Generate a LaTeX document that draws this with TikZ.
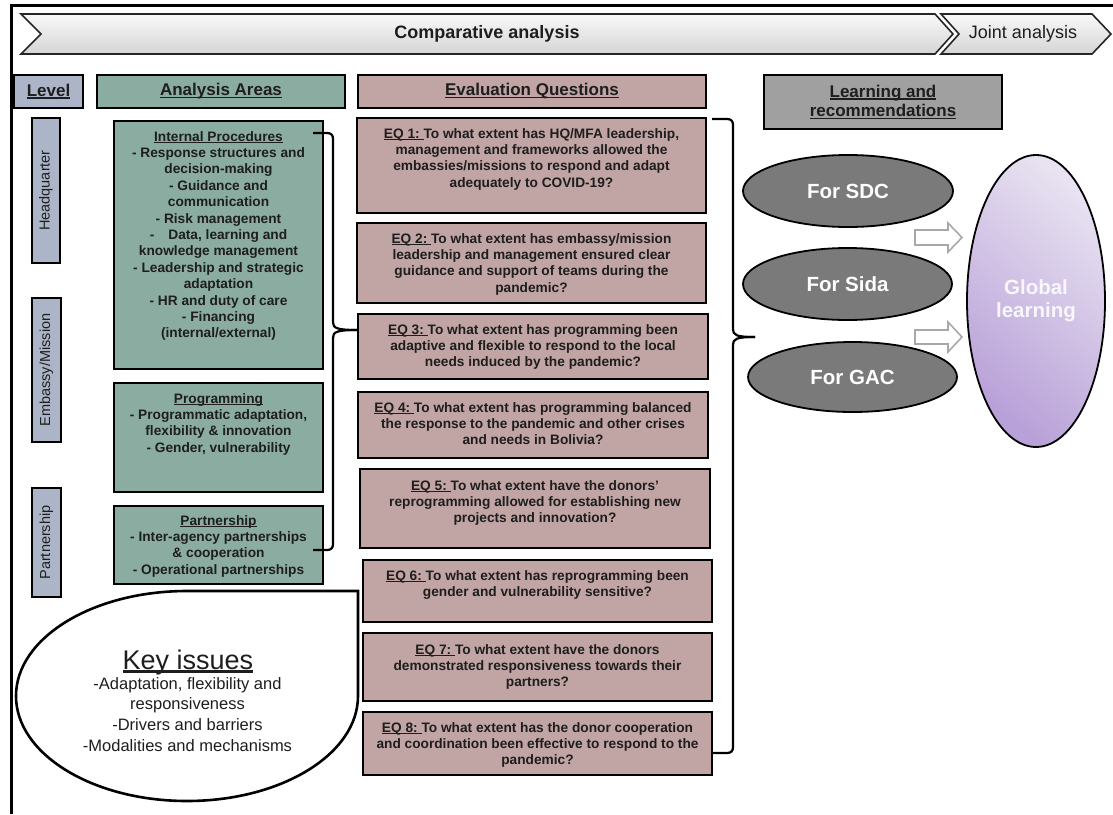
\documentclass[tikz,border=0pt]{standalone}
\usepackage{fontspec}
\setmainfont{Liberation Sans}
\usetikzlibrary{shapes.geometric}
\definecolor{lvl}{RGB}{171,181,199}
\definecolor{grn}{RGB}{139,172,161}
\definecolor{pnk}{RGB}{193,164,164}
\definecolor{lrn}{RGB}{160,160,160}
\definecolor{ell}{RGB}{122,122,122}
\definecolor{glo}{RGB}{184,160,216}
\definecolor{glolt}{RGB}{232,226,241}
\definecolor{arr}{RGB}{168,168,168}
\definecolor{txt}{RGB}{30,30,30}
\newcommand{\fs}[2]{\fontsize{#1}{#2}\selectfont}
\newcommand{\ulx}[1]{\setbox0\hbox{#1}\rlap{\rule[-0.13em]{\wd0}{0.075em}}\box0}
\begin{document}
\begin{tikzpicture}[x=1pt,y=-1pt,
  hdr/.style={draw=black, line width=2.2pt, inner sep=0pt, font=\fs{17}{20}\bfseries, align=center, text=txt},
  lvlbox/.style={draw=black, line width=2.2pt, fill=lvl, inner sep=0pt, rotate=90, font=\fs{14.5}{16}, text=txt},
  areabox/.style={draw=black, line width=2.4pt, fill=grn, inner sep=0pt},
  eqbox/.style={draw=black, line width=2.4pt, fill=pnk, inner sep=0pt},
  btxt/.style={font=\fs{13.7}{16.4}\bfseries, align=center, inner sep=0pt, anchor=north, text=txt},
  brace/.style={draw=black, line width=2.2pt},
  forell/.style={ellipse, draw=black, line width=1.8pt, fill=ell, text=white, font=\fs{20.5}{24}\bfseries, inner sep=0pt},
  barrow/.style={draw=arr, fill=white, line width=1.6pt, line join=miter},
  chev/.style={draw=black!85, line width=1.6pt, top color=gray!5, bottom color=gray!33}
]
\useasboundingbox (0,0) rectangle (1113,814);
% outer frame
\draw[line width=3pt] (11,814) -- (11,5.5) -- (1113,5.5);

% chevrons
\path[chev] (21,14) -- (935,14) -- (953,34) -- (935,54) -- (21,54) -- (41,34) -- cycle;
\path[chev] (941,14) -- (1092,14) -- (1111,34) -- (1092,54) -- (941,54) -- (959,34) -- cycle;
\node[font=\fs{18}{20}\bfseries, text=txt, inner sep=0pt] (comp) at (487,34) {Comparative analysis};
\node[font=\fs{18}{20}, text=txt, inner sep=0pt] (joint) at (1023,34) {Joint analysis};

% headers
\node[hdr, fill=lvl, minimum width=69, minimum height=33] (hLevel) at (48.5,91.5) {\ulx{Level}};
\node[hdr, fill=grn, minimum width=248, minimum height=33] (hArea) at (221,91.5) {\ulx{Analysis Areas}};
\node[hdr, fill=pnk, minimum width=348, minimum height=33] (hEQ) at (532,91.5) {\ulx{Evaluation Questions}};
\node[hdr, fill=lrn, minimum width=238, minimum height=54] (hLearn) at (883,102) {\ulx{Learning and}\\[-0.5pt]\ulx{recommendations}};

% level column
\node[lvlbox, minimum width=145, minimum height=28] (lvHQ) at (46,190.5) {Headquarter};
\node[lvlbox, minimum width=144, minimum height=29] (lvEM) at (46.5,370) {Embassy/Mission};
\node[lvlbox, minimum width=109, minimum height=29] (lvPA) at (46.5,542.5) {Partnership};

% analysis areas
\node[areabox, minimum width=209, minimum height=248] (ip) at (218.5,245) {};
\node[btxt] (ipt) at (218.5,131) {\ulx{Internal Procedures}\\- Response structures and\\decision-making\\- Guidance and\\communication\\- Risk management\\-\hspace{14pt}Data, learning and\\knowledge management\\- Leadership and strategic\\adaptation\\- HR and duty of care\\- Financing\\(internal/external)};
\node[areabox, minimum width=209, minimum height=109] (pr) at (218.5,437.5) {};
\node[btxt] (prt) at (218.5,393) {\ulx{Programming}\\- Programmatic adaptation,\\flexibility \& innovation\\- Gender, vulnerability};
\node[areabox, minimum width=209, minimum height=78] (pa) at (218.5,545) {};
\node[btxt] (pat) at (218.5,515) {\ulx{Partnership}\\- Inter-agency partnerships\\\& cooperation\\- Operational partnerships};

% evaluation questions
\node[eqbox, minimum width=349, minimum height=95] (eq1) at (531.5,165.5) {};
\node[btxt] (eq1t) at (531.5,128) {\ulx{EQ 1:\ }To what extent has HQ/MFA leadership,\\management and frameworks allowed the\\embassies/missions to respond and adapt\\adequately to COVID-19?};
\node[eqbox, minimum width=349, minimum height=80] (eq2) at (531.5,263) {};
\node[btxt] (eq2t) at (531.5,233) {\ulx{EQ 2:\ }To what extent has embassy/mission\\leadership and management ensured clear\\guidance and support of teams during the\\pandemic?};
\node[eqbox, minimum width=350, minimum height=65] (eq3) at (533,346.5) {};
\node[btxt] (eq3t) at (533,324) {\ulx{EQ 3:\ }To what extent has programming been\\adaptive and flexible to respond to the local\\needs induced by the pandemic?};
\node[eqbox, minimum width=350, minimum height=66] (eq4) at (533,425) {};
\node[btxt] (eq4t) at (533,402) {\ulx{EQ 4:\ }To what extent has programming balanced\\the response to the pandemic and other crises\\and needs in Bolivia?};
\node[eqbox, minimum width=350, minimum height=79] (eq5) at (535,508.5) {};
\node[btxt] (eq5t) at (535,480) {\ulx{EQ 5:\ }To what extent have the donors'\\reprogramming allowed for establishing new\\projects and innovation?};
\node[eqbox, minimum width=349, minimum height=62] (eq6) at (537.5,591) {};
\node[btxt] (eq6t) at (537.5,570) {\ulx{EQ 6:\ }To what extent has reprogramming been\\gender and vulnerability sensitive?};
\node[eqbox, minimum width=349, minimum height=68] (eq7) at (537.5,667) {};
\node[btxt] (eq7t) at (537.5,644) {\ulx{EQ 7:\ }To what extent have the donors\\demonstrated responsiveness towards their\\partners?};
\node[eqbox, minimum width=349, minimum height=63] (eq8) at (537.5,743.5) {};
\node[btxt] (eq8t) at (537.5,722) {\ulx{EQ 8:\ }To what extent has the donor cooperation\\and coordination been effective to respond to the\\pandemic?};

% left brace
\coordinate (lbA) at (313,133);
\coordinate (lbTip) at (358,330);
\coordinate (lbB) at (313,550);
\draw[brace] (lbA) -- (327,133) .. controls (331,133) and (333,135) .. (333,139) -- (333,322) .. controls (333,328) and (336,330) .. (lbTip);
\draw[brace] (lbTip) .. controls (336,330) and (333,332) .. (333,338) -- (333,544) .. controls (333,548) and (331,550) .. (327,550) -- (lbB);

% right brace
\coordinate (rbA) at (712,119);
\coordinate (rbTip) at (755,337);
\coordinate (rbB) at (712,753);
\draw[brace] (rbA) -- (727,119) .. controls (731,119) and (733,121) .. (733,125) -- (733,329) .. controls (733,335) and (736,337) .. (rbTip);
\draw[brace] (rbTip) .. controls (736,337) and (733,339) .. (733,345) -- (733,747) .. controls (733,751) and (731,753) .. (727,753) -- (rbB);

% key issues teardrop
\draw[line width=2.6pt, fill=white] (358,696) -- (358,591) -- (187,591) arc[start angle=270, end angle=0, x radius=171, y radius=105] -- cycle;
\node[font=\fs{27}{30}, anchor=base, inner sep=0pt, text=txt] (kt) at (188,669) {\ulx{Key issues}};
\node[font=\fs{16.5}{20.7}, align=center, anchor=north, inner sep=0pt, text=txt] (kl) at (187.5,677) {-Adaptation, flexibility and\\responsiveness\\-Drivers and barriers\\-Modalities and mechanisms};

% learning ellipses
\node[forell, minimum width=210, minimum height=72] (sdc) at (848,191) {For SDC};
\node[forell, minimum width=209, minimum height=72] (sida) at (847.5,284) {For Sida};
\node[forell, minimum width=209, minimum height=70] (gac) at (852.5,377) {For GAC};
\node[ellipse, draw=black, line width=1.8pt, minimum width=138, minimum height=292, inner sep=0pt,
      top color=glolt, bottom color=glo, shading angle=-40, text=white!92!glo,
      font=\fs{20.5}{23}\bfseries, align=center] (gl) at (1036,301) {Global\\learning};

% block arrows
\path[barrow] (915,230) -- (948,230) -- (948,223) -- (962,237.5) -- (948,252) -- (948,245) -- (915,245) -- cycle;
\path[barrow] (915,330) -- (948,330) -- (948,322) -- (962,337) -- (948,352) -- (948,344) -- (915,344) -- cycle;
\end{tikzpicture}
\end{document}
